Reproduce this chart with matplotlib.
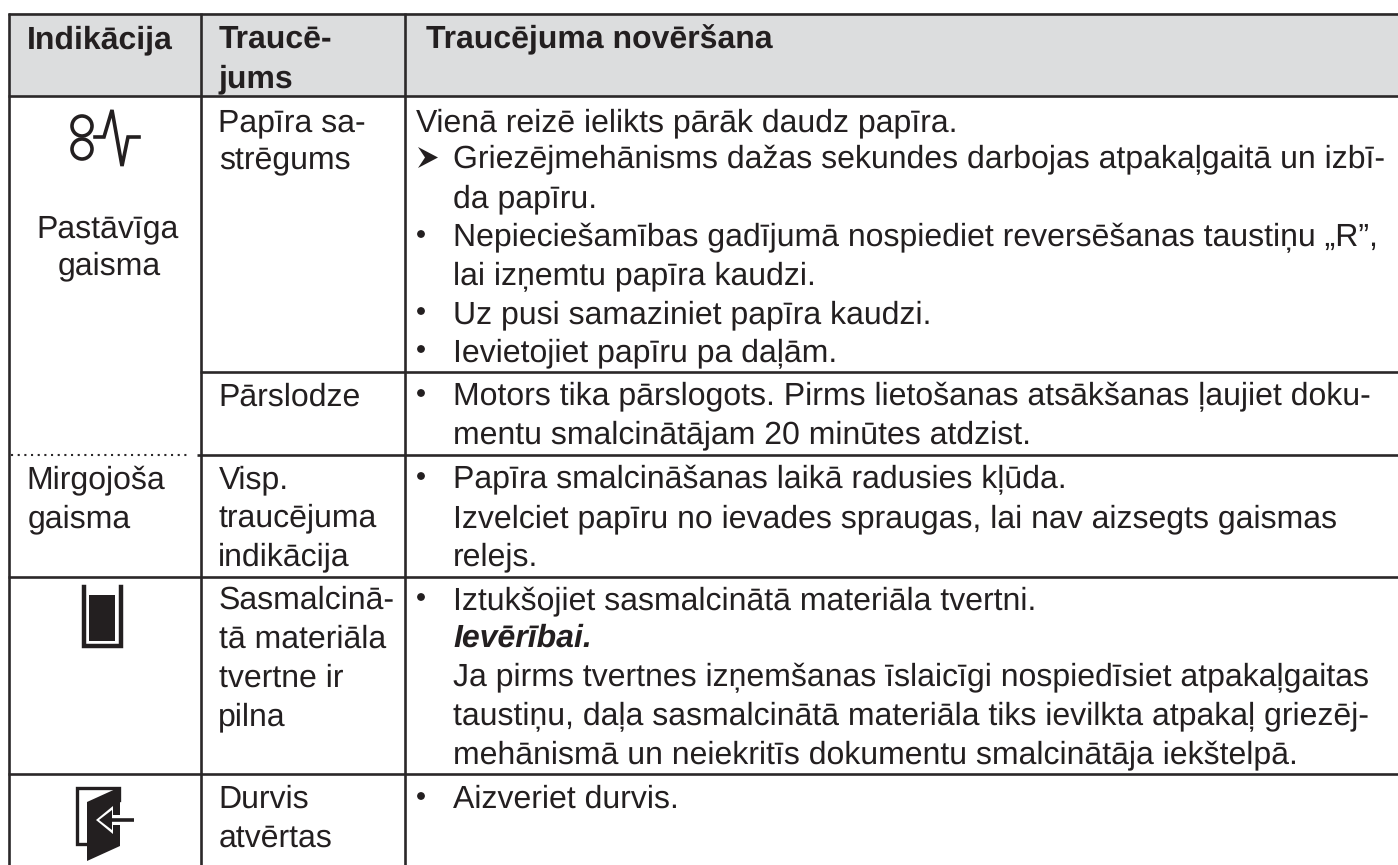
import matplotlib
matplotlib.use("Agg")
import matplotlib.pyplot as plt
from matplotlib.patches import Rectangle, Polygon, Circle

plt.rcParams['font.family'] = ['Liberation Sans', 'DejaVu Sans']
plt.rcParams['text.hinting'] = 'no_hinting'
plt.rcParams['text.hinting_factor'] = 1

W, H = 1398, 865
INK = '#231f20'
header_fill = '#dcddde'

header_texts = [(27, 48, 'Indikācija'), (219, 48, 'Traucē-'), (219, 87, 'jums'),
                (426, 48, 'Traucējuma novēršana')]
col1_texts = [(36, 237, 'Pastāvīga'), (58, 274, 'gaisma'),
              (26, 488, 'Mirgojoša'), (28, 527, 'gaisma')]
col2_texts = [(218, 131, 'Papīra sa-'), (219, 168, 'strēgums'),
              (218, 406, 'Pārslodze'),
              (219, 488, 'Visp.'), (219, 526, 'traucējuma'), (218, 565, 'indikācija'),
              (219, 609, 'Sasmalcinā-'), (219, 648, 'tā materiāla'),
              (219, 687, 'tvertne ir'), (218, 725, 'pilna'),
              (218, 808, 'Durvis'), (219, 847, 'atvērtas')]
col3_texts = [(416, 131, 'Vienā reizē ielikts pārāk daudz papīra.'),
              (453, 168, 'Griezējmehānisms dažas sekundes darbojas atpakaļgaitā un izbī-'),
              (453, 207, 'da papīru.'),
              (453, 246, 'Nepieciešamības gadījumā nospiediet reversēšanas taustiņu „R”,'),
              (453, 284, 'lai izņemtu papīra kaudzi.'),
              (453, 323, 'Uz pusi samaziniet papīra kaudzi.'),
              (453, 361, 'Ievietojiet papīru pa daļām.'),
              (453, 405, 'Motors tika pārslogots. Pirms lietošanas atsākšanas ļaujiet doku-'),
              (453, 443, 'mentu smalcinātājam 20 minūtes atdzist.'),
              (453, 488, 'Papīra smalcināšanas laikā radusies kļūda.'),
              (453, 527, 'Izvelciet papīru no ievades spraugas, lai nav aizsegts gaismas'),
              (453, 565, 'relejs.'),
              (453, 609, 'Iztukšojiet sasmalcinātā materiāla tvertni.'),
              (453, 686, 'Ja pirms tvertnes izņemšanas īslaicīgi nospiedīsiet atpakaļgaitas'),
              (453, 724, 'taustiņu, daļa sasmalcinātā materiāla tiks ievilkta atpakaļ griezēj-'),
              (453, 763, 'mehānismā un neiekritīs dokumentu smalcinātāja iekštelpā.'),
              (453, 808, 'Aizveriet durvis.')]
bold_italic = (453, 647, 'Ievērībai.')
bullets_y = [246, 323, 361, 405, 488, 609, 808]

fig = plt.figure(figsize=(W / 100, H / 100), dpi=100, facecolor='white')
ax = fig.add_axes([0, 0, 1, 1])
ax.set_xlim(0, W)
ax.set_ylim(H, 0)
ax.axis('off')

ax.add_patch(Rectangle((9, 13), W - 9, 83, fc=header_fill, ec='none', zorder=0))

LW = 1.9
LINE = '#2b2829'
def hl(y, x0, x1):
    ax.plot([x0, x1], [y, y], color=LINE, lw=LW, solid_capstyle='butt', zorder=2)
def vl(x, y0, y1):
    ax.plot([x, x], [y0, y1], color=LINE, lw=LW, solid_capstyle='butt', zorder=2)

hl(13.5, 8, W); hl(96, 8, W)
hl(372, 200, W); hl(455, 197, W)
hl(576.5, 8, W); hl(774, 8, W)
ax.plot([11, 191], [455, 455], color=LINE, lw=1.5, ls=(0, (1, 2.2)), zorder=2)
for x in (9, 200.5, 404.5):
    vl(x, 13, H)

FS = 23.0
for x, y, s in header_texts:
    ax.text(x, y, s, fontsize=FS, fontweight='bold', color=INK, va='baseline', ha='left')
for group in (col1_texts, col2_texts, col3_texts):
    for x, y, s in group:
        ax.text(x, y, s, fontsize=FS, color=INK, va='baseline', ha='left')
ax.text(bold_italic[0], bold_italic[1], bold_italic[2], fontsize=FS, fontweight='bold',
        fontstyle='italic', color=INK, va='baseline', ha='left')
for y in bullets_y:
    ax.add_patch(Circle((421, y - 12), 3.9, fc=INK, ec='none'))
# arrow bullet
ax.add_patch(Polygon([(418, 147), (438, 157.5), (418, 168), (425, 157.5)], fc=INK, ec='none'))

# jam / overload icon
ax.add_patch(Circle((82, 126), 10, fc='none', ec=INK, lw=2.6))
ax.add_patch(Circle((82, 149), 10, fc='none', ec=INK, lw=2.6))
ax.plot([95, 104, 112, 122, 128, 139], [137, 137, 110, 166, 137, 137], color=INK, lw=2.6,
        solid_joinstyle='miter')

# bin icon
ax.plot([83.5, 83.5, 120.5, 120.5], [587, 646, 646, 587], color=INK, lw=3.2, solid_joinstyle='miter')
ax.add_patch(Rectangle((89, 595), 26, 46, fc=INK, ec='none'))

# door icon
ax.plot([87, 76.5, 76.5, 119, 119], [843.5, 843.5, 787.5, 787.5, 800], color=INK, lw=2.4,
        solid_joinstyle='miter')
ax.add_patch(Polygon([(87, 802), (120, 787), (120, 846), (87, 861)], fc=INK, ec='none'))
ax.add_patch(Polygon([(96, 820), (113, 806), (113, 815), (135, 815), (135, 825), (113, 825), (113, 834)],
                     fc='white', ec='none'))
ax.plot([112, 134], [820, 820], color=INK, lw=2.6, solid_capstyle='butt')
ax.add_patch(Polygon([(99, 820), (112, 810), (112, 830)], fc='#231f20', ec='none'))
ax.add_patch(Polygon([(103, 820), (110, 814.5), (110, 825.5)], fc='#231f20', ec='none'))

fig.savefig('out.png', dpi=100)
